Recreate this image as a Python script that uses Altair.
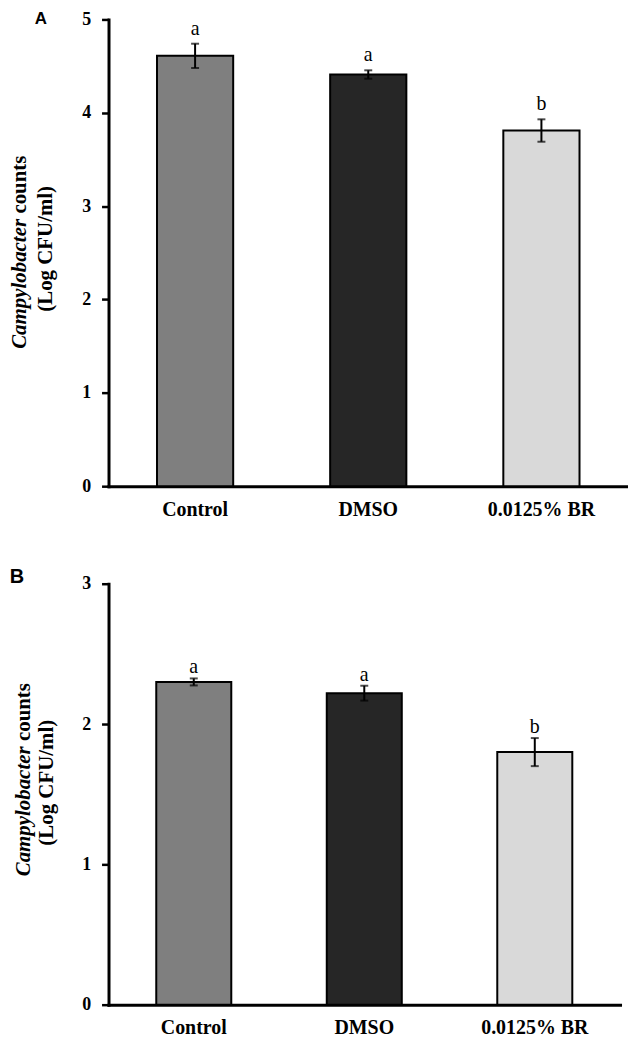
import altair as alt
import pandas as pd

groups = ["Control", "DMSO", "0.0125% BR"]
fills = ["#7f7f7f", "#262626", "#d9d9d9"]

a_mean = [4.61, 4.41, 3.81]
a_se = [0.13, 0.045, 0.12]
a_letters = ["a", "a", "b"]
a_ticks = [0, 1, 2, 3, 4, 5]

b_mean = [2.30, 2.22, 1.80]
b_se = [0.025, 0.053, 0.10]
b_letters = ["a", "a", "b"]
b_ticks = [0, 1, 2, 3]

title_italic = "Campylobacter"
title_plain = "counts"
title_line2 = "(Log CFU/ml)"

SERIF = "Liberation Serif"
SANS = "Liberation Sans"
TFS = 21


def panel(mean, se, letters, ticks, width, height, letter_dy, tpos, tag, tagpos, tagsize):
    df = pd.DataFrame({
        "group": groups,
        "mean": mean,
        "lo": [m - s for m, s in zip(mean, se)],
        "hi": [m + s for m, s in zip(mean, se)],
        "letter": letters,
    })
    base = alt.Chart(df)
    xs = alt.Scale(paddingInner=0.56, paddingOuter=0.28)
    x = alt.X("group:N", sort=groups, scale=xs, title=None)
    ys = alt.Scale(domain=[0, ticks[-1]], nice=False)
    y = alt.Y("mean:Q", scale=ys, title=None,
              axis=alt.Axis(values=ticks, format="d"))
    bars = base.mark_bar(stroke="black", strokeWidth=2).encode(
        x=x, y=y,
        color=alt.Color("group:N", scale=alt.Scale(domain=groups, range=fills), legend=None),
    )
    rule = base.mark_rule(color="black", strokeWidth=2).encode(
        x=x, y=alt.Y("lo:Q", scale=ys, title=None), y2="hi:Q")
    cap_lo = base.mark_tick(color="black", thickness=2, size=8).encode(
        x=x, y=alt.Y("lo:Q", scale=ys, title=None))
    cap_hi = base.mark_tick(color="black", thickness=2, size=8).encode(
        x=x, y=alt.Y("hi:Q", scale=ys, title=None))
    lett = base.mark_text(font=SERIF, fontSize=20, baseline="alphabetic",
                          dy=letter_dy, color="black").encode(
        x=x, y=alt.Y("hi:Q", scale=ys, title=None), text="letter:N")

    (x1, ybot, ysplit, x2, ymid) = tpos
    t1 = alt.Chart(pd.DataFrame({"t": [title_italic]})).mark_text(
        font=SERIF, fontSize=TFS, fontWeight="bold", fontStyle="italic",
        angle=270, align="left", baseline="middle", color="black").encode(
        x=alt.value(x1), y=alt.value(ybot), text="t:N")
    t2 = alt.Chart(pd.DataFrame({"t": [title_plain]})).mark_text(
        font=SERIF, fontSize=TFS, fontWeight="bold",
        angle=270, align="left", baseline="middle", color="black").encode(
        x=alt.value(x1), y=alt.value(ysplit), text="t:N")
    t3 = alt.Chart(pd.DataFrame({"t": [title_line2]})).mark_text(
        font=SERIF, fontSize=TFS, fontWeight="bold",
        angle=270, align="center", baseline="middle", color="black").encode(
        x=alt.value(x2), y=alt.value(ymid), text="t:N")
    tg = alt.Chart(pd.DataFrame({"t": [tag]})).mark_text(
        font=SANS, fontSize=tagsize, fontWeight="bold",
        align="center", baseline="alphabetic", color="black").encode(
        x=alt.value(tagpos[0]), y=alt.value(tagpos[1]), text="t:N")

    return alt.layer(bars, rule, cap_lo, cap_hi, lett, t1, t2, t3, tg).properties(
        width=width, height=height)


pa = panel(a_mean, a_se, a_letters, a_ticks, 522, 469, -9,
           (-89, 331, 195.1, -63, 230.5), "A", (-68, 5), 17)
pb = panel(b_mean, b_se, b_letters, b_ticks, 514, 423, -5,
           (-85, 294, 158.1, -62, 200), "B", (-92, -1), 20)

chart = alt.vconcat(pa, pb, spacing=48).properties(
    padding={"left": 0, "top": 0, "right": 0, "bottom": 0}
).configure_view(
    stroke=None
).configure_axis(
    grid=False, domainColor="black", domainWidth=3, domainCap="square",
    labelColor="black", labelFont=SERIF, labelFontWeight="bold",
).configure_axisX(
    labelAngle=0, ticks=False, tickSize=0, labelPadding=23,
    labelBaseline="middle", labelFontSize=20,
).configure_axisY(
    tickSize=7, tickWidth=2.5, tickColor="black", labelPadding=11,
    labelFontSize=18,
)

chart.save("out.html", embed_options={"renderer": "svg", "actions": False})
